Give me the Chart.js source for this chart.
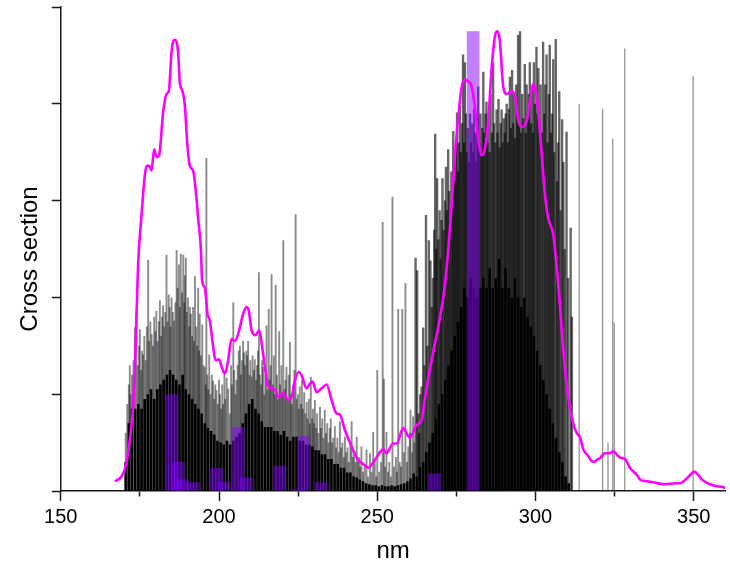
<!DOCTYPE html>
<html><head><meta charset="utf-8">
<script src="https://cdn.jsdelivr.net/npm/chart.js@4.4.0/dist/chart.umd.min.js"></script>
<style>html,body{margin:0;padding:0;background:#fff;}</style>
</head><body>
<canvas id="c" width="730" height="574"></canvas>
<script>
// ---- Data (x in nm, y in arbitrary cross-section units, 0..5) ----
const xTickValues = [150, 200, 250, 300, 350];            // labelled ticks
const xMinorTickValues = [175, 225, 275, 325];            // short unlabelled ticks
const yTickValues = [0, 1, 2, 3, 4, 5];

// smoothed cross-section (magenta line)
const magentaCurve = [
[167.07,0.10],[169.18,0.15],[170.76,0.29],[171.81,0.53],[172.85,0.87],[173.61,1.48],[174.43,2.34],[175.51,2.85],
[176.55,3.26],[177.09,3.36],[177.91,3.36],[178.67,3.31],[179.49,3.53],[180.25,3.45],[181.07,3.47],[182.33,3.91],
[183.41,4.10],[184.13,4.13],[184.99,4.53],[185.49,4.64],[186.03,4.66],[186.57,4.64],[187.07,4.53],[187.61,4.22],
[188.46,4.13],[189.19,3.99],[189.92,3.61],[190.77,3.36],[191.81,3.31],[192.89,3.02],[193.39,2.82],[194.25,2.51],
[194.66,2.17],[195.51,2.10],[196.37,1.83],[197.09,1.76],[198.14,1.49],[198.89,1.35],[199.94,1.36],[200.88,1.28],
[201.83,1.21],[202.88,1.35],[203.95,1.57],[205.0,1.55],[206.04,1.62],[207.62,1.83],[208.69,1.90],[209.42,1.86],
[210.27,1.66],[211.54,1.61],[212.67,1.66],[213.62,1.49],[214.47,1.28],[215.52,1.08],[216.59,1.06],[217.86,1.04],
[218.68,0.97],[220.26,1.01],[221.84,0.94],[222.91,0.97],[223.96,1.14],[225.22,1.23],[226.26,1.18],[227.65,1.06],
[228.70,1.11],[229.55,1.13],[230.82,1.02],[232.40,1.06],[233.98,1.10],[235.56,0.94],[237.14,0.80],[238.18,0.79],
[239.76,0.63],[241.88,0.46],[243.96,0.32],[245.5,0.28],[247.1,0.24],[249.2,0.32],[251.9,0.43],[252.9,0.39],
[255.0,0.49],[256.1,0.49],[258.2,0.65],[260.3,0.55],[262.4,0.68],[264.0,0.73],[265.0,0.94],[266.6,1.25],
[268.2,1.52],[269.8,1.79],[271.4,2.13],[272.4,2.48],[273.5,2.95],[274.5,3.45],[275.6,3.86],[276.6,4.16],
[277.7,4.25],[278.7,4.23],[279.8,4.18],[280.8,3.98],[281.9,3.64],[283.0,3.47],[284.0,3.53],[285.1,3.84],
[286.1,4.35],[287.2,4.70],[287.9,4.75],[288.7,4.66],[289.8,4.18],[290.9,4.10],[292.4,4.13],[293.5,4.08],
[294.5,3.84],[295.6,3.76],[297.2,3.82],[298.2,4.01],[299.1,4.20],[299.8,4.18],[300.9,3.91],[301.9,3.50],
[303.0,3.06],[304.0,2.82],[305.6,2.65],[307.2,2.13],[308.8,1.45],[310.3,0.98],[311.9,0.70],[313.0,0.60],
[314.0,0.56],[315.1,0.43],[316.7,0.36],[317.7,0.31],[318.6,0.30],[319.3,0.32],[320.4,0.34],[321.9,0.39],
[323.3,0.39],[324.6,0.41],[326.1,0.36],[327.0,0.34],[328.3,0.33],[329.8,0.24],[331.9,0.17],[333.0,0.12],
[335.1,0.10],[337.2,0.09],[340.4,0.07],[344.6,0.08],[345.6,0.08],[347.8,0.13],[349.0,0.17],[350.2,0.20],
[351.3,0.17],[352.5,0.12],[355.1,0.07],[357.2,0.05],[359.3,0.04],[360.0,0.03]
];

// saturated (near-black) part of the stick forest, 1 nm resolution
const denseNm = [
170.5,171.5,172.5,173.5,174.5,175.5,176.5,177.5,178.5,179.5,180.5,181.5,182.5,183.5,184.5,185.5,186.5,187.5,188.5,189.5,
190.5,191.5,192.5,193.5,194.5,195.5,196.5,197.5,198.5,199.5,200.5,201.5,202.5,203.5,204.5,205.5,206.5,207.5,208.5,209.5,
210.5,211.5,212.5,213.5,214.5,215.5,216.5,217.5,218.5,219.5,220.5,221.5,222.5,223.5,224.5,225.5,226.5,227.5,228.5,229.5,
230.5,231.5,232.5,233.5,234.5,235.5,236.5,237.5,238.5,239.5,240.5,241.5,242.5,243.5,244.5,245.5,246.5,247.5,248.5,249.5,
250.5,251.5,252.5,253.5,254.5,255.5,256.5,257.5,258.5,259.5,260.5,261.5,262.5,263.5,264.5,265.5,266.5,267.5,268.5,269.5,
270.5,271.5,272.5,273.5,274.5,275.5,276.5,277.5,278.5,279.5,280.5,281.5,282.5,283.5,284.5,285.5,286.5,287.5,288.5,289.5,
290.5,291.5,292.5,293.5,294.5,295.5,296.5,297.5,298.5,299.5,300.5,301.5,302.5,303.5,304.5,305.5,306.5,307.5,308.5,309.5,
310.5
];
const denseVal = [
0.30,0.70,0.85,0.85,0.90,0.85,0.95,1.00,1.05,0.95,1.05,1.10,1.15,1.20,1.25,1.20,1.15,1.10,1.20,1.05,
1.00,0.95,0.90,0.85,0.80,0.70,0.65,0.62,0.58,0.52,0.50,0.48,0.52,0.48,0.52,0.56,0.60,0.70,0.80,0.90,
0.95,0.85,0.80,0.72,0.66,0.66,0.66,0.62,0.62,0.58,0.62,0.56,0.52,0.56,0.56,0.52,0.52,0.48,0.48,0.46,
0.42,0.42,0.38,0.38,0.33,0.33,0.28,0.28,0.24,0.24,0.19,0.19,0.15,0.14,0.12,0.10,0.08,0.07,0.06,0.06,
0.05,0.06,0.05,0.05,0.06,0.05,0.06,0.07,0.08,0.10,0.13,0.18,0.15,0.25,0.30,0.40,0.50,0.60,0.75,0.90,
1.00,1.15,1.30,1.45,1.60,1.75,1.90,2.10,2.00,2.20,2.10,2.00,2.10,2.20,2.10,2.30,2.10,2.20,2.40,2.10,
2.30,2.10,2.00,2.20,2.00,1.90,2.00,1.80,1.70,1.60,1.45,1.30,1.15,1.00,0.85,0.70,0.55,0.40,0.30,0.15,
0.08
];

// individual stick lines (semi-transparent)
const sticks170to205 = [
[170.5,0.6],[171.0,0.9],[171.5,1.1],[171.8,1.30],[172.0,1.0],[172.5,1.2],[173.0,1.35],[173.4,1.69],[173.9,1.86],[174.3,1.3],
[174.7,1.5],[175.0,1.67],[175.4,1.25],[175.7,1.45],[176.0,1.41],[176.4,1.6],[176.8,1.35],[177.2,1.7],[177.6,2.39],[177.9,1.55],
[178.3,1.75],[178.7,1.62],[179.1,1.5],[179.5,1.8],[179.9,1.65],[180.2,1.86],[180.6,1.55],[181.0,1.75],[181.3,1.97],[181.7,1.6],
[182.0,1.8],[182.3,1.92],[182.7,1.7],[183.0,1.85],[183.4,2.44],[183.7,1.75],[184.1,2.03],[184.4,1.9],[184.7,1.7],[185.0,2.00],
[185.4,1.85],[185.8,1.76],[186.2,1.95],[186.6,2.49],[186.9,2.1],[187.3,2.34],[187.6,1.9],[187.9,2.45],[188.3,2.05],[188.7,2.44],
[189.0,1.95],[189.2,2.23],[189.5,2.41],[189.8,1.85],[190.2,2.00],[190.6,1.7],[190.8,1.9],[191.1,1.83],[191.5,1.6],[191.8,1.90],
[192.1,1.55],[192.4,2.22],[192.8,1.7],[193.1,1.5],[193.4,2.10],[193.7,1.45],[193.9,1.83],[194.3,1.4],[194.7,1.72],[195.1,1.3],
[195.5,1.28],[195.8,1.1],[196.0,3.44],[196.3,1.2],[196.6,1.05],[196.9,1.41],[197.3,1.0],[197.7,1.2],[198.1,1.14],[198.5,0.95],
[198.8,1.1],[199.2,1.04],[199.6,0.9],[200.0,1.15],[200.3,1.00],[200.7,0.85],[201.0,1.1],[201.3,0.90],[201.7,1.2],[202.0,0.95],
[202.4,1.17],[202.9,1.06],[203.4,0.80],[203.8,1.3],[204.1,1.1],[204.5,1.95],[204.8,1.25]
];
const sticks205to246 = [
[205.2,1.0],[205.5,1.15],[205.9,1.3],[206.2,1.45],[206.6,1.5],[206.9,1.2],[207.2,1.35],[207.6,1.55],[207.9,1.43],[208.2,1.3],
[208.6,1.45],[208.9,1.4],[209.2,1.55],[209.6,1.2],[209.9,1.35],[210.3,1.18],[210.6,1.4],[211.0,1.25],[211.3,1.36],[211.7,1.15],
[212.0,1.3],[212.3,1.45],[212.6,2.26],[212.9,1.2],[213.3,1.1],[213.6,1.35],[213.9,1.28],[214.3,1.0],[214.6,1.2],[215.0,1.71],
[215.3,1.05],[215.7,1.88],[216.0,1.15],[216.3,1.3],[216.6,2.24],[217.0,1.1],[217.3,1.4],[217.6,1.0],[217.9,2.13],[218.3,1.2],
[218.6,0.95],[219.0,1.65],[219.3,1.1],[219.7,1.3],[220.0,1.0],[220.3,2.59],[220.7,1.05],[221.0,1.15],[221.3,1.28],[221.7,0.95],
[222.0,1.2],[222.4,1.54],[222.7,1.0],[223.0,0.9],[223.4,1.1],[223.8,1.25],[224.2,2.86],[224.5,0.95],[224.9,1.0],[225.2,0.85],
[225.5,1.08],[225.9,0.9],[226.2,1.15],[226.5,0.85],[226.9,1.02],[227.3,0.8],[227.7,0.92],[228.0,0.75],[228.4,0.95],[228.7,0.7],
[229.0,1.18],[229.4,0.75],[229.7,0.85],[230.0,0.7],[230.3,0.94],[230.7,0.65],[231.0,0.8],[231.4,0.6],[231.9,0.87],[232.2,0.65],
[232.6,0.75],[233.0,0.55],[233.4,0.84],[233.8,0.6],[234.2,0.7],[234.6,0.5],[235.0,0.65],[235.3,0.75],[235.7,0.5],[236.1,0.55],
[236.6,0.67],[237.0,0.45],[237.4,0.55],[237.8,0.4],[238.2,0.72],[238.6,0.45],[239.0,0.5],[239.4,0.35],[239.8,0.56],[240.2,0.4],
[240.6,0.45],[241.0,0.3],[241.5,0.5],[241.9,0.72],[242.3,0.35],[242.7,0.4],[243.1,0.3],[243.5,0.56],[243.9,0.3],[244.3,0.35],
[244.6,0.25],[245.0,0.46],[245.5,0.2],[246.0,0.25]
];
const sticks246to262 = [
[246.6,0.43],[247.1,0.15],[247.7,0.39],[248.2,0.2],[248.7,0.61],[249.2,0.33],[249.7,0.15],[250.0,1.25],[250.6,0.2],[251.2,0.3],
[251.7,2.78],[252.1,1.16],[252.5,0.25],[252.9,0.61],[253.4,0.2],[253.8,0.3],[254.3,0.15],[254.8,3.04],[255.3,0.25],[255.9,0.35],
[256.2,0.2],[256.6,1.88],[257.1,0.3],[257.5,0.25],[257.9,1.88],[258.4,0.4],[258.9,2.15],[259.4,0.3],[259.8,0.46],[260.3,0.6],
[260.5,0.84],[261.0,0.4],[261.3,0.77],[261.7,0.5]
];
const sticks262to312 = [
[262.1,2.41],[262.6,2.28],[263.0,0.8],[263.2,0.6],[263.6,1.0],[264.0,1.08],
[264.5,1.69],[264.9,1.3],[265.4,2.85],[265.8,1.5],[266.3,2.59],[266.8,2.38],[267.2,1.9],[267.6,2.2],[268.0,2.7],[268.3,3.69],
[268.6,2.5],[268.9,3.23],[269.3,2.6],[269.7,2.9],[270.0,2.4],[270.3,2.8],[270.6,3.23],[271.0,2.7],[271.4,3.0],[271.7,3.35],
[272.0,2.9],[272.4,3.53],[272.7,3.1],[273.0,2.8],[273.4,3.3],[273.7,3.0],[274.0,3.72],[274.3,3.4],[274.6,3.2],[274.9,3.6],
[275.2,3.91],[275.5,3.3],[275.8,3.6],
[276.1,3.98],[276.4,3.5],[276.8,3.8],[277.1,4.51],[277.4,3.6],[277.7,4.43],[278.0,3.9],[278.3,3.5],[278.6,3.75],[279.0,3.4],
[279.3,3.9],[279.6,3.6],[280.0,3.8],[280.3,3.5],[280.6,3.95],[281.0,3.7],[281.3,3.4],[281.6,3.85],[281.9,4.18],[282.2,3.6],
[282.6,3.9],[282.9,3.5],[283.2,3.75],[283.5,4.33],[283.8,3.7],[284.2,3.9],[284.5,4.02],[284.8,3.6],[285.1,3.85],[285.5,3.5],
[285.8,4.1],[286.2,3.7],[286.6,4.43],[286.9,3.8],[287.3,3.6],[287.7,3.94],[288.0,3.7],[288.3,4.05],[288.7,3.55],[289.0,3.8],
[289.3,3.94],[289.6,3.6],[290.0,3.85],[290.3,3.7],[290.6,3.9],[290.9,4.00],[291.3,3.6],[291.6,3.95],[291.9,4.28],[292.2,3.75],
[292.6,4.35],[292.9,3.8],[293.2,4.1],[293.5,3.65],[293.9,4.2],[294.2,3.9],[294.5,4.71],[294.8,3.8],[295.1,4.75],[295.4,3.7],
[295.8,4.1],[296.1,3.85],[296.6,4.41],[296.9,3.7],[297.2,4.2],[297.6,3.9],[297.9,4.1],[298.2,4.43],[298.6,3.8],[298.9,4.15],
[299.2,3.7],[299.5,4.43],[299.8,4.0],[300.3,4.59],[300.6,3.9],[300.9,4.37],[301.3,3.8],[301.6,4.2],[302.0,3.7],[302.4,4.64],
[302.8,3.9],[303.1,4.2],[303.5,4.51],[303.8,3.6],[304.2,4.1],[304.5,4.61],[304.9,3.7],[305.2,3.9],[305.6,4.46],[305.9,3.5],
[306.4,4.67],[306.8,3.2],[307.1,3.6],[307.5,4.13],[307.9,2.9],[308.4,3.84],[308.8,3.4],[309.2,2.5],[309.8,3.71],[310.3,2.2],
[311.1,2.72],[311.5,1.8]
];
const sticksTail = [
[313.8,4.00],[321.2,3.95],[322.9,0.50],[324.4,3.64],[324.9,1.74],[328.2,4.57],[349.8,4.29]
];

// purple histogram bins (4 nm wide)
const binCenters = [185.08,187.09,188.46,191.85,199.21,201.52,206.04,208.57,219.22,224.75,226.77,232.24,268.05,280.28];
const binHeights = [1.00,0.30,0.12,0.09,0.24,0.095,0.66,0.14,0.26,0.015,0.57,0.09,0.18,4.75];

// ---- Chart ----
const toXY = arr => arr.map(p => ({x: p[0], y: p[1]}));
const shortSticks = toXY([].concat(sticks170to205, sticks205to246, sticks246to262));
const longSticks = toXY(sticks262to312);
const tailSticks = toXY(sticksTail);
const densePoints = denseNm.map((x, i) => ({x, y: denseVal[i]}));
const binPoints = binCenters.map((x, i) => ({x, y: binHeights[i]}));
const allXTicks = xTickValues.concat(xMinorTickValues).sort((a, b) => a - b);

Chart.defaults.font.family = "'Liberation Sans', Arial, sans-serif";
Chart.defaults.color = '#000';

const axisColor = '#1a1a1a';
const stickBase = { type: 'bar', grouped: false, inflateAmount: 0, borderWidth: 0 };
const isMinor = ctx => ctx.tick && xMinorTickValues.indexOf(ctx.tick.value) >= 0;

new Chart(document.getElementById('c'), {
  type: 'bar',
  data: {
    datasets: [
      { type: 'line', data: toXY(magentaCurve), borderColor: '#ff00ff', borderWidth: 2.6,
        pointRadius: 0, cubicInterpolationMode: 'monotone', fill: false, order: 0 },
      Object.assign({ data: binPoints, backgroundColor: 'rgba(128,0,255,0.5)', barThickness: 12.6, order: 1 }, stickBase),
      Object.assign({ data: tailSticks, backgroundColor: 'rgba(0,0,0,0.42)', barThickness: 1.3, order: 2 }, stickBase),
      Object.assign({ data: longSticks, backgroundColor: 'rgba(0,0,0,0.6)', barThickness: 2.4, order: 3 }, stickBase),
      Object.assign({ data: shortSticks, backgroundColor: 'rgba(0,0,0,0.45)', barThickness: 1.9, order: 4 }, stickBase),
      Object.assign({ data: densePoints, backgroundColor: '#000', barThickness: 2.6, order: 5 }, stickBase)
    ]
  },
  options: {
    responsive: false, animation: false, devicePixelRatio: 1,
    layout: { padding: { left: 12, right: 4.6, top: 7, bottom: 3.6 } },
    plugins: { legend: { display: false }, tooltip: { enabled: false } },
    scales: {
      x: {
        type: 'linear', position: 'bottom', min: 150, max: 360, offset: false,
        afterBuildTicks: axis => { axis.ticks = allXTicks.map(v => ({ value: v })); },
        border: { display: true, color: axisColor, width: 1.5 },
        grid: {
          offset: false, drawOnChartArea: false, drawTicks: true, tickLength: 10, tickColor: axisColor, tickWidth: 1.5,
          tickBorderDash: ctx => isMinor(ctx) ? [5, 30] : [],
          tickBorderDashOffset: 0
        },
        ticks: {
          autoSkip: false, maxRotation: 0, padding: 4,
          font: { size: 20 }, color: '#000',
          callback: v => xTickValues.indexOf(v) >= 0 ? String(v) : ''
        },
        title: { display: true, text: 'nm', font: { size: 24 }, color: '#000', padding: { top: 4, bottom: 4.6 } }
      },
      y: {
        type: 'linear', min: 0, max: 5,
        afterBuildTicks: axis => { axis.ticks = yTickValues.map(v => ({ value: v })); },
        border: { display: true, color: axisColor, width: 1.5 },
        grid: { offset: false, drawOnChartArea: false, drawTicks: true, tickLength: 9, tickColor: axisColor, tickWidth: 1.5 },
        ticks: { display: false },
        title: { display: true, text: 'Cross section   ', font: { size: 24 }, color: '#000', padding: { top: 4, bottom: 7 } }
      }
    }
  }
});
</script>
</body></html>
